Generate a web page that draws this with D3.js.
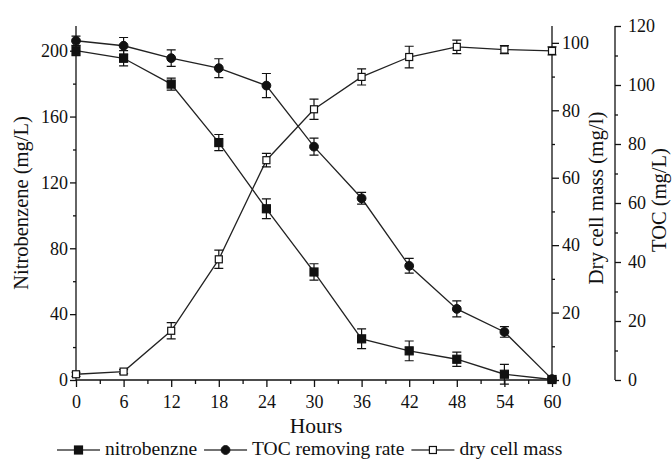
<!DOCTYPE html>
<html>
<head>
<meta charset="utf-8">
<script src="https://cdn.jsdelivr.net/npm/d3@7.9.0/dist/d3.min.js"></script>
<style>
  body { margin: 0; background: #fff; }
  svg text { font-family: "Liberation Serif", "Times New Roman", serif; fill: #111; }
</style>
</head>
<body>
<svg id="chart" width="672" height="461"></svg>
<script>
// data
const hours = [0, 6, 12, 18, 24, 30, 36, 42, 48, 54, 60];
const nitro = [200, 195.4, 179.7, 144.2, 104, 65.6, 25, 17.7, 12.6, 3.5, 0.3];
const nitroErr = [3, 4.6, 3.7, 4.9, 6, 5, 6, 6, 4.3, 6, 1];
const toc = [115, 113.3, 109.1, 105.7, 99.8, 79.1, 61.6, 38.7, 24.1, 16.3, 0.3];
const tocErr = [1.6, 2.8, 2.8, 3.2, 4.1, 2.9, 2, 2.5, 2.7, 1.8, 1];
const dryMass = [1.7, 2.5, 14.6, 35.8, 65.2, 80.3, 89.9, 95.8, 98.8, 98, 97.6];
const dryErr = [0.6, 0.6, 2.4, 2.7, 2, 3, 2.4, 3.2, 2, 1.2, 1.2];

const legendLabels = ["nitrobenzne", "TOC removing rate", "dry cell mass"];

const svg = d3.select("#chart");
const plotLeft = 76, plotRight = 552, plotTop = 26, plotBottom = 380;
const tocX = 615;

const x = d3.scaleLinear().domain([0, 60]).range([plotLeft, plotRight]);
const yNitro = d3.scaleLinear().domain([0, 215]).range([plotBottom, plotTop]);
const yDry = d3.scaleLinear().domain([0, 105]).range([plotBottom, plotTop]);
const yToc = d3.scaleLinear().domain([0, 120]).range([plotBottom, plotTop]);

const ink = "#111";
const fontSize = 18;

// axes helper: major ticks with labels + minor ticks
function drawAxis(g, axisFn, scale, majors, minors, major, minor, pad) {
  g.call(axisFn(scale).tickValues(minors).tickSize(minor).tickFormat(""));
  const gm = g.append("g").call(axisFn(scale).tickValues(majors).tickSize(major).tickPadding(pad));
  gm.select(".domain").remove();
  g.attr("font-family", null);
  gm.attr("font-family", null);
  g.selectAll("line, path").attr("stroke", ink).attr("stroke-width", 1.3);
  gm.selectAll("text").attr("font-size", fontSize);
  return gm;
}

// x axis
const gx = svg.append("g").attr("transform", `translate(0,${plotBottom})`);
drawAxis(gx, d3.axisBottom, x, d3.range(0, 61, 6), d3.range(3, 60, 6), 7, 4, 8);
gx.select(".domain").attr("d", `M${plotLeft},0H${plotRight}`);

// left axis
const gl = svg.append("g").attr("transform", `translate(${plotLeft},0)`);
drawAxis(gl, d3.axisLeft, yNitro, d3.range(0, 201, 40), d3.range(20, 215, 40), 6, 3, 2);
gl.select(".domain").attr("d", `M0,${plotTop}V${plotBottom}`);

// dry cell mass axis
const gd = svg.append("g").attr("transform", `translate(${plotRight},0)`);
drawAxis(gd, d3.axisRight, yDry, d3.range(0, 101, 20), d3.range(10, 105, 20), 7, 3, 3);
gd.select(".domain").attr("d", `M0,${plotTop}V${plotBottom}`);

// TOC axis, offset to the right
const gt = svg.append("g").attr("transform", `translate(${tocX},0)`);
drawAxis(gt, d3.axisRight, yToc, d3.range(0, 121, 20), d3.range(10, 120, 20), 6, 3, 7);
gt.select(".domain").attr("d", `M0,${plotTop}V${plotBottom}`);

// axis titles
svg.append("text").attr("x", 316).attr("y", 433).attr("text-anchor", "middle")
  .attr("font-size", 21.5).text("Hours");
svg.append("text").attr("transform", "translate(28,203) rotate(-90)").attr("text-anchor", "middle")
  .attr("font-size", 20.5).text("Nitrobenzene (mg/L)");
svg.append("text").attr("transform", "translate(603,198) rotate(-90)").attr("text-anchor", "middle")
  .attr("font-size", 21).text("Dry cell mass (mg/l)");
svg.append("text").attr("transform", "translate(666,200) rotate(-90)").attr("text-anchor", "middle")
  .attr("font-size", 20.5).text("TOC (mg/L)");

// series
const series = [
  { vals: nitro, err: nitroErr, y: yNitro, shape: "square", fill: ink },
  { vals: toc, err: tocErr, y: yToc, shape: "circle", fill: ink },
  { vals: dryMass, err: dryErr, y: yDry, shape: "square", fill: "#fff" }
];

function drawMarker(g, shape, fill, cx, cy) {
  if (shape === "circle") {
    g.append("circle").attr("cx", cx).attr("cy", cy).attr("r", 4.4)
      .attr("fill", fill).attr("stroke", ink).attr("stroke-width", 1);
  } else {
    const s = fill === ink ? 8 : 7;
    g.append("rect").attr("x", cx - s / 2).attr("y", cy - s / 2).attr("width", s).attr("height", s)
      .attr("fill", fill).attr("stroke", ink).attr("stroke-width", 1.2);
  }
}

series.forEach((s) => {
  const g = svg.append("g");
  const line = d3.line().x((d, i) => x(hours[i])).y((d) => s.y(d));
  g.append("path").datum(s.vals).attr("d", line)
    .attr("fill", "none").attr("stroke", "#222").attr("stroke-width", 1.3);

  // error bars
  s.vals.forEach((v, i) => {
    const cx = x(hours[i]);
    const y1 = s.y(v + s.err[i]), y2 = s.y(v - s.err[i]);
    g.append("path")
      .attr("d", `M${cx},${y1}V${y2}M${cx - 4.5},${y1}H${cx + 4.5}M${cx - 4.5},${y2}H${cx + 4.5}`)
      .attr("stroke", ink).attr("stroke-width", 1.2).attr("fill", "none");
  });

  s.vals.forEach((v, i) => drawMarker(g, s.shape, s.fill, x(hours[i]), s.y(v)));
});

// legend
const legend = svg.append("g").attr("transform", "translate(57,450)");
let lx = 0;
legendLabels.forEach((label, i) => {
  const s = series[i];
  legend.append("line").attr("x1", lx).attr("x2", lx + 43).attr("y1", 0).attr("y2", 0)
    .attr("stroke", "#444").attr("stroke-width", 1.4);
  drawMarker(legend, s.shape, s.fill, lx + 21.5, 0);
  const t = legend.append("text").attr("x", lx + 48).attr("y", 5).attr("font-size", 19.5).text(label);
  lx += 48 + t.node().getComputedTextLength() + 7;
});
</script>
</body>
</html>
